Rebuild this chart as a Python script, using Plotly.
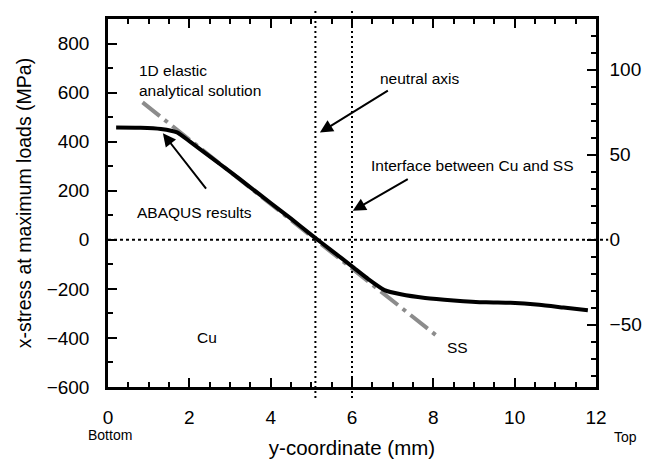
import plotly.graph_objects as go

# ABAQUS x-stress along the y-coordinate (mm, MPa)
abaqus_y = [0.2, 0.8, 1.3, 1.7, 2.0, 2.5, 3.0, 3.5, 4.0, 4.5, 5.0, 5.5, 6.0,
            6.4, 6.8, 7.2, 7.8, 8.5, 9.3, 9.9, 10.6, 11.2, 11.8]
abaqus_stress = [458, 457, 452, 438, 402, 340, 278, 214, 150, 86, 20, -44, -108,
                 -160, -205, -222, -237, -247, -255, -257, -265, -276, -287]

# 1D elastic analytical solution (straight line)
elastic_y = [0.85, 8.15]
elastic_stress = [560, -400]

neutral_axis = 5.1
interface = 6.0

x_ticks = [0, 2, 4, 6, 8, 10, 12]
left_ticks = [-600, -400, -200, 0, 200, 400, 600, 800]
right_ticks = [-50, 0, 50, 100]

X_RANGE = [0, 12]
Y_RANGE = [-600, 900]
Y2_RANGE = [-86.6, 129.9]

FONT = "Liberation Sans, Arial, Helvetica, sans-serif"
AXIS_W = 2.5
CLEAR = "rgba(0,0,0,0)"

fig = go.Figure()

fig.add_trace(go.Scatter(
    x=elastic_y, y=elastic_stress, mode="lines",
    line=dict(color="#8c8c8c", width=4, dash="22px,6px,4px,6px"),
    showlegend=False, hoverinfo="skip"))

fig.add_trace(go.Scatter(
    x=abaqus_y, y=abaqus_stress, mode="lines",
    line=dict(color="black", width=4, shape="spline", smoothing=0.5),
    showlegend=False, hoverinfo="skip"))

# empty traces so the tick-only overlay axes are rendered
for xa, ya in (("x", "y2"), ("x2", "y"), ("x", "y3"), ("x", "y4")):
    fig.add_trace(go.Scatter(x=[None], y=[None], xaxis=xa, yaxis=ya,
                             showlegend=False, hoverinfo="skip"))

# reference lines: zero stress, neutral axis, Cu/SS interface
fig.add_shape(type="line", xref="paper", yref="y", x0=0, x1=1.025, y0=0, y1=0,
              line=dict(color="black", width=2, dash="3px,3px"))
for xv in (neutral_axis, interface):
    fig.add_shape(type="line", xref="x", yref="paper", x0=xv, x1=xv,
                  y0=-0.03, y1=1.03,
                  line=dict(color="black", width=2, dash="2px,3px"))

ann_font = dict(family=FONT, size=15.5, color="black")
arrow = dict(showarrow=True, arrowhead=2, arrowsize=1.3, arrowwidth=2,
             arrowcolor="black", axref="x", ayref="y", xref="x", yref="y")
annotations = [
    dict(x=0.71, y=650, xref="x", yref="y", text="1D elastic<br>analytical solution",
         showarrow=False, xanchor="left", align="left", font=ann_font),
    dict(x=1.35, y=434, ax=2.51, ay=188, **arrow),
    dict(x=2.12, y=113, xref="x", yref="y", text="ABAQUS results",
         showarrow=False, font=ann_font),
    dict(x=5.21, y=437, ax=6.98, ay=618, **arrow),
    dict(x=7.67, y=659, xref="x", yref="y", text="neutral axis",
         showarrow=False, font=ann_font),
    dict(x=6.02, y=118, ax=7.47, ay=257, **arrow),
    dict(x=8.97, y=302, xref="x", yref="y", text="Interface between Cu and SS",
         showarrow=False, font=ann_font),
    dict(x=2.43, y=-399, xref="x", yref="y", text="Cu", showarrow=False, font=ann_font),
    dict(x=8.6, y=-440, xref="x", yref="y", text="SS", showarrow=False, font=ann_font),
    dict(x=0.004, y=-0.13, xref="paper", yref="paper", text="Bottom", showarrow=False,
         xanchor="center", yanchor="middle", font=dict(family=FONT, size=14, color="black")),
    dict(x=1.06, y=-0.136, xref="paper", yref="paper", text="Top", showarrow=False,
         xanchor="center", yanchor="middle", font=dict(family=FONT, size=14, color="black")),
]

# tick marks (inside, with minor ticks) are drawn by overlay axes without labels
def tick_axis(rng, dtick, minor_dtick, **kw):
    return dict(range=rng, dtick=dtick, showgrid=False, zeroline=False,
                showline=True, linecolor="black", linewidth=AXIS_W,
                ticks="inside", ticklen=9, tickwidth=2, tickcolor="black",
                showticklabels=False,
                minor=dict(dtick=minor_dtick, ticks="inside", ticklen=5, tickwidth=2,
                           tickcolor="black", showgrid=False),
                **kw)

# labelled axes use invisible outside ticks to push their labels away from the frame
fig.update_layout(
    width=647, height=459,
    margin=dict(l=108, r=51, t=19, b=72, autoexpand=False),
    paper_bgcolor="white", plot_bgcolor="white",
    font=dict(family=FONT, size=19, color="black"),
    annotations=annotations,
    xaxis=dict(
        range=X_RANGE, tickvals=x_ticks, showgrid=False, zeroline=False,
        showline=True, linecolor="black", linewidth=AXIS_W, mirror=True,
        ticks="outside", ticklen=11, tickcolor=CLEAR,
        title=dict(text="y-coordinate (mm)", font=dict(size=20.5), standoff=17),
    ),
    xaxis2=tick_axis(X_RANGE, x_ticks[1] - x_ticks[0], 0.5,
                     overlaying="x", side="bottom", anchor="y", mirror="allticks"),
    yaxis=dict(
        range=Y_RANGE, tickvals=left_ticks, showgrid=False, zeroline=False,
        showline=True, linecolor="black", linewidth=AXIS_W,
        ticks="outside", ticklen=12, tickcolor=CLEAR,
        title=dict(text="x-stress at maximum loads (MPa)", font=dict(size=19.5),
                   standoff=10),
    ),
    yaxis3=tick_axis(Y_RANGE, left_ticks[1] - left_ticks[0], 100,
                     overlaying="y", side="left"),
    yaxis2=dict(
        overlaying="y", side="right", range=Y2_RANGE, tickvals=right_ticks,
        showgrid=False, zeroline=False,
        showline=True, linecolor="black", linewidth=AXIS_W,
        ticks="outside", ticklen=7, tickcolor=CLEAR,
    ),
    yaxis4=tick_axis(Y2_RANGE, right_ticks[1] - right_ticks[0], 10,
                     overlaying="y", side="right"),
)

fig.write_html("out.html")
